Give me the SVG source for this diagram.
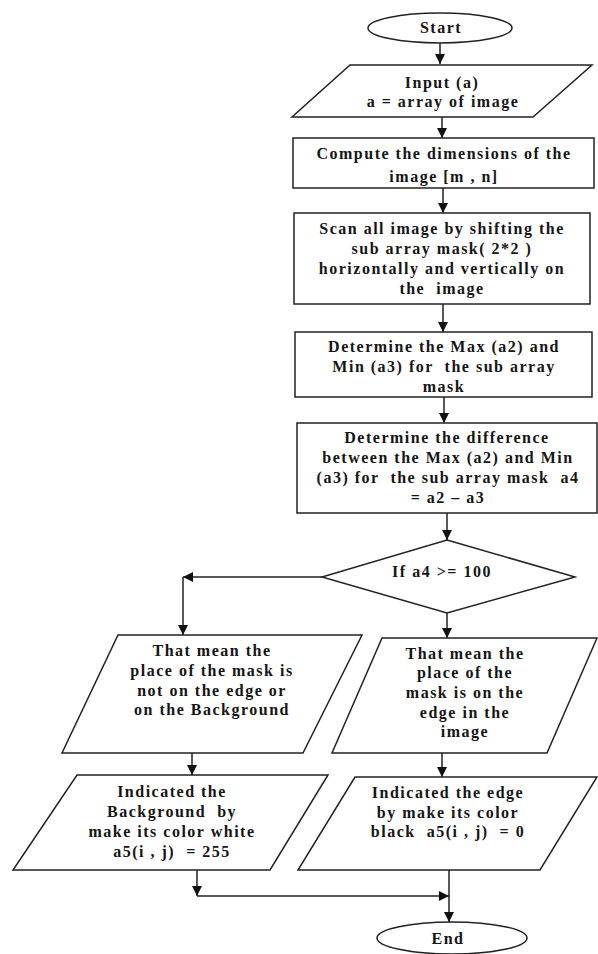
<svg xmlns="http://www.w3.org/2000/svg" width="598" height="954" viewBox="0 0 598 954" xml:space="preserve">
<style>
.s{fill:#fff;stroke:#222;stroke-width:1.5}
.t{font-family:"Liberation Serif","Times New Roman",serif;font-weight:bold;font-size:16px;letter-spacing:1.5px;fill:#151515;text-anchor:middle;white-space:pre}
.c{fill:none;stroke:#222;stroke-width:1.5}
</style>
<defs>
<marker id="ah" viewBox="0 0 10 10" refX="10" refY="5" markerWidth="10" markerHeight="10" markerUnits="userSpaceOnUse" orient="auto">
<path d="M0,0 L10,5 L0,10 Z" fill="#111"/>
</marker>
</defs>
<rect width="598" height="954" fill="#fff"/>
<g id="connectors">
<path class="c" d="M440,43 V64" marker-end="url(#ah)"/>
<path class="c" d="M442,117 V138" marker-end="url(#ah)"/>
<path class="c" d="M443,188 V213" marker-end="url(#ah)"/>
<path class="c" d="M443,304 V332" marker-end="url(#ah)"/>
<path class="c" d="M444,397 V423" marker-end="url(#ah)"/>
<path class="c" d="M447,513 V540" marker-end="url(#ah)"/>
<path class="c" d="M322,577 H183" marker-end="url(#ah)"/>
<path class="c" d="M183,577 V635" marker-end="url(#ah)"/>
<path class="c" d="M447,613 V638" marker-end="url(#ah)"/>
<path class="c" d="M192,753 V775" marker-end="url(#ah)"/>
<path class="c" d="M442,753 V777" marker-end="url(#ah)"/>
<path class="c" d="M197,870 V896" marker-end="url(#ah)"/>
<path class="c" d="M197,896 H449" marker-end="url(#ah)"/>
<path class="c" d="M449,870 V922" marker-end="url(#ah)"/>
</g>
<g id="start">
<ellipse class="s" cx="440" cy="28" rx="72" ry="15"/>
<text class="t" x="441" y="33">Start</text>
</g>
<g id="input">
<polygon class="s" points="350,65 592,65 533,117 292,117"/>
<text class="t" x="442" y="88">Input (a)</text>
<text class="t" x="443" y="107">a = array of image</text>
</g>
<g id="compute">
<rect class="s" x="293" y="138" width="301" height="50"/>
<text class="t" x="444" y="159">Compute the dimensions of the</text>
<text class="t" x="444" y="182">image [m , n]</text>
</g>
<g id="scan">
<rect class="s" x="294" y="213" width="296" height="91"/>
<text class="t" x="442" y="234">Scan all image by shifting the</text>
<text class="t" x="442" y="254">sub array mask( 2*2 )</text>
<text class="t" x="442" y="274">horizontally and vertically on</text>
<text class="t" x="442" y="294">the  image</text>
</g>
<g id="maxmin">
<rect class="s" x="295" y="332" width="297" height="65"/>
<text class="t" x="444" y="352">Determine the Max (a2) and</text>
<text class="t" x="444" y="372">Min (a3) for  the sub array</text>
<text class="t" x="444" y="392">mask</text>
</g>
<g id="difference">
<rect class="s" x="297" y="423" width="300" height="90"/>
<text class="t" x="447" y="443">Determine the difference</text>
<text class="t" x="448" y="463">between the Max (a2) and Min</text>
<text class="t" x="448" y="483">(a3) for  the sub array mask  a4</text>
<text class="t" x="448" y="503">= a2 – a3</text>
</g>
<g id="decision">
<polygon class="s" points="447,540 575,577 447,613 322,577"/>
<text class="t" x="442" y="577">If a4 &gt;= 100</text>
</g>
<g id="not-edge">
<polygon class="s" points="118,635 362,635 303,753 62,753"/>
<text class="t" x="212" y="656">That mean the</text>
<text class="t" x="212" y="676">place of the mask is</text>
<text class="t" x="212" y="696">not on the edge or</text>
<text class="t" x="212" y="715">on the Background</text>
</g>
<g id="edge">
<polygon class="s" points="382,638 597,638 547,753 332,753"/>
<text class="t" x="465" y="659">That mean the</text>
<text class="t" x="465" y="678">place of the</text>
<text class="t" x="465" y="698">mask is on the</text>
<text class="t" x="465" y="718">edge in the</text>
<text class="t" x="465" y="737">image</text>
</g>
<g id="set-white">
<polygon class="s" points="77,775 328,775 270,870 13,870"/>
<text class="t" x="172" y="797">Indicated the</text>
<text class="t" x="172" y="817">Background  by</text>
<text class="t" x="172" y="837">make its color white</text>
<text class="t" x="172" y="857">a5(i , j)  = 255</text>
</g>
<g id="set-black">
<polygon class="s" points="355,777 597,777 540,870 298,870"/>
<text class="t" x="448" y="798">Indicated the edge</text>
<text class="t" x="448" y="818">by make its color</text>
<text class="t" x="448" y="837">black  a5(i , j)  = 0</text>
</g>
<g id="end">
<ellipse class="s" cx="452" cy="938" rx="75" ry="16"/>
<text class="t" x="448" y="944">End</text>
</g>
</svg>
